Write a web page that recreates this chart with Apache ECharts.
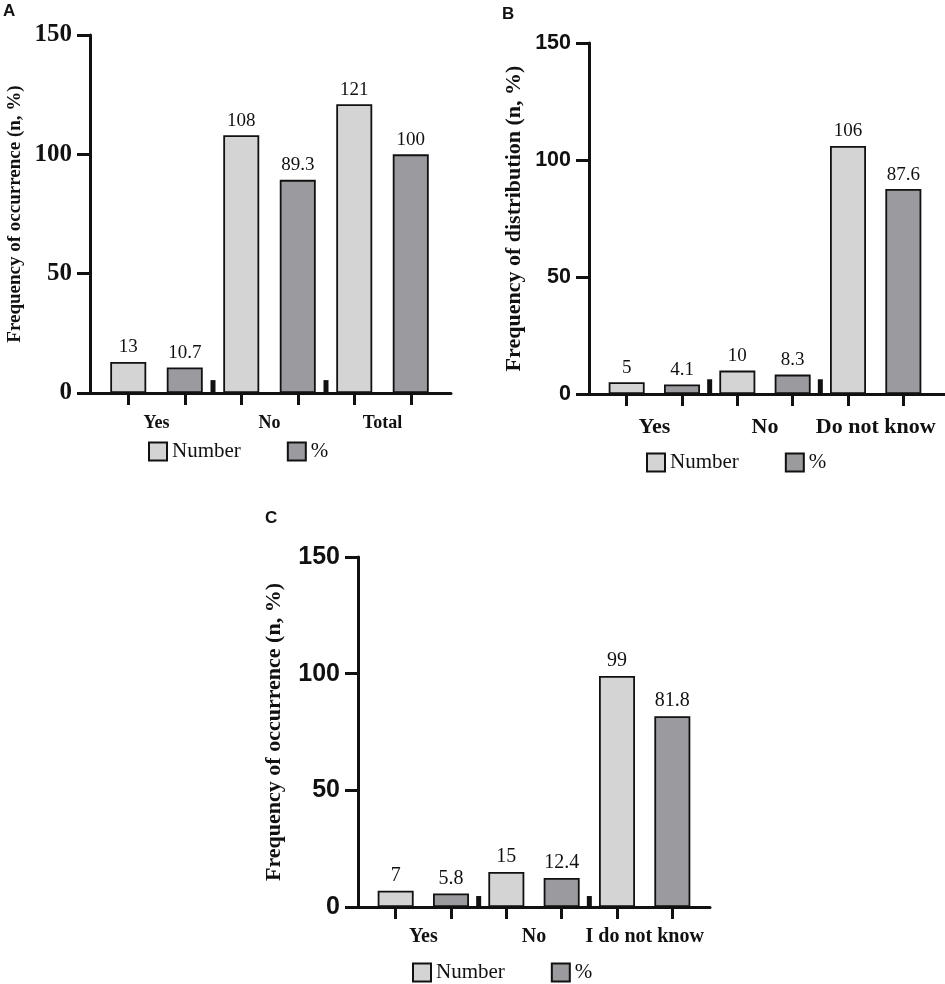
<!DOCTYPE html>
<html>
<head>
<meta charset="utf-8">
<script src="https://cdn.jsdelivr.net/npm/echarts@6/dist/echarts.min.js"></script>
<style>
html,body{margin:0;padding:0;background:#fff;}
#chart{width:945px;height:984px;}
</style>
</head>
<body>
<div id="chart"></div>
<script>
// ---- Data ----
const seriesNames = ['Number', '%'];
const groupsA = ['Yes', 'No', 'Total'];
const numberA = [13, 108, 121];
const pctA = [10.7, 89.3, 100];
const groupsB = ['Yes', 'No', 'Do not know'];
const numberB = [5, 10, 106];
const pctB = [4.1, 8.3, 87.6];
const groupsC = ['Yes', 'No', 'I do not know'];
const numberC = [7, 15, 99];
const pctC = [5.8, 12.4, 81.8];
// small black separator marks between groups
const sepA = [5.4, 5.4];
const sepB = [6.3, 6.3];
const sepC = [4.7, 4.7];
const yMin = 0, yMax = 150, yStep = 50;
const yTitles = ['Frequency of occurrence (n, %)', 'Frequency of distribution (n, %)', 'Frequency of occurrence (n, %)'];
const panelLetters = ['A', 'B', 'C'];

// ---- Layout / style ----
const LIGHT = '#d4d4d4', DARK = '#9b9a9f';
const SERIF = 'Liberation Serif', SANS = 'Liberation Sans';
const layouts = [
  {axisLeft: 90, axisWidth: 361, top: 35, height: 358, barLeft: 100, barWidthArea: 339,
   tickFont: SERIF, tickSize: 25, titleSize: 19, nameGap: 65, groupSize: 18, groupMargin: 21,
   labelSize: 19, legendLeft: 148, legendTop: 441, letterLeft: 3, letterTop: 3},
  {axisLeft: 589, axisWidth: 356, top: 43, height: 351, barLeft: 599, barWidthArea: 332,
   tickFont: SANS, tickSize: 21.5, titleSize: 22, nameGap: 64, groupSize: 22, groupMargin: 22,
   labelSize: 19, legendLeft: 646, legendTop: 452, letterLeft: 502, letterTop: 6},
  {axisLeft: 358, axisWidth: 352, top: 557, height: 350, barLeft: 368, barWidthArea: 332,
   tickFont: SANS, tickSize: 25, titleSize: 22, nameGap: 73, groupSize: 20, groupMargin: 20,
   labelSize: 20, legendLeft: 412, legendTop: 962, letterLeft: 265, letterTop: 510}
];

const panelData = [
  {groups: groupsA, number: numberA, pct: pctA, sep: sepA},
  {groups: groupsB, number: numberB, pct: pctB, sep: sepB},
  {groups: groupsC, number: numberC, pct: pctC, sep: sepC}
];

const grid = [], xAxis = [], yAxis = [], series = [], legend = [], title = [];

panelData.forEach((pd, p) => {
  const L = layouts[p];
  const gAxis = grid.length;
  grid.push({left: L.axisLeft, top: L.top, width: L.axisWidth, height: L.height, containLabel: false});
  const gBar = grid.length;
  grid.push({left: L.barLeft, top: L.top, width: L.barWidthArea, height: L.height, containLabel: false});

  // Visible y axis
  yAxis.push({
    type: 'value', gridIndex: gAxis, min: yMin, max: yMax, interval: yStep,
    name: yTitles[p], nameLocation: 'middle', nameRotate: 90, nameGap: L.nameGap,
    nameTextStyle: {fontFamily: SERIF, fontWeight: 'bold', fontSize: L.titleSize, color: '#111'},
    axisLine: {show: true, lineStyle: {color: '#111', width: 3}},
    axisTick: {show: true, inside: false, length: 13, lineStyle: {color: '#111', width: 3}},
    axisLabel: {fontFamily: L.tickFont, fontWeight: 'bold', fontSize: L.tickSize, color: '#111', margin: 18},
    splitLine: {show: false}
  });
  const yHid = yAxis.length;
  yAxis.push({type: 'value', gridIndex: gBar, min: yMin, max: yMax, interval: yStep, show: false, splitLine: {show: false}});

  // x axis line (full length)
  xAxis.push({
    type: 'value', gridIndex: gAxis, min: 0, max: 1, position: 'bottom',
    axisLine: {show: true, onZero: false, lineStyle: {color: '#111', width: 3}},
    axisTick: {show: false}, axisLabel: {show: false}, splitLine: {show: false}
  });
  // category axis with ticks (one per bar)
  const cats = [];
  pd.groups.forEach(g => { cats.push(g + ' Number'); cats.push(g + ' %'); });
  const xCat = xAxis.length;
  xAxis.push({
    type: 'category', gridIndex: gBar, data: cats, position: 'bottom',
    axisLine: {show: false}, axisLabel: {show: false, interval: 0},
    axisTick: {show: true, interval: 0, alignWithLabel: true, length: 12, lineStyle: {color: '#111', width: 3}},
    splitLine: {show: false}
  });
  // separator axis (boundaries between groups)
  const sepCats = ['', '', '', ''];
  const xSep = xAxis.length;
  xAxis.push({
    type: 'category', gridIndex: gBar, data: sepCats, boundaryGap: false, position: 'bottom', show: false
  });
  // group label axis
  xAxis.push({
    type: 'category', gridIndex: gBar, data: pd.groups, position: 'bottom',
    axisLine: {show: false}, axisTick: {show: false},
    axisLabel: {fontFamily: SERIF, fontWeight: 'bold', fontSize: L.groupSize, color: '#111', margin: L.groupMargin, interval: 0}
  });

  const numData = [], pctData = [];
  pd.groups.forEach((g, i) => {
    numData.push(pd.number[i]); numData.push('-');
    pctData.push('-'); pctData.push(pd.pct[i]);
  });
  const labelCfg = {show: true, position: 'top', distance: 5, fontFamily: SERIF, fontSize: L.labelSize, color: '#111'};
  series.push({
    name: seriesNames[0], type: 'bar', xAxisIndex: xCat, yAxisIndex: yHid, data: numData,
    barWidth: 36, barGap: '-100%',
    itemStyle: {color: LIGHT, borderColor: '#111', borderWidth: 1.8},
    label: labelCfg, emphasis: {disabled: true}
  });
  series.push({
    name: seriesNames[1], type: 'bar', xAxisIndex: xCat, yAxisIndex: yHid, data: pctData,
    barWidth: 36, barGap: '-100%',
    itemStyle: {color: DARK, borderColor: '#111', borderWidth: 1.8},
    label: labelCfg, emphasis: {disabled: true}
  });
  series.push({
    name: 'sep', type: 'bar', xAxisIndex: xSep, yAxisIndex: yHid,
    data: ['-', pd.sep[0], pd.sep[1], '-'], barWidth: 5,
    itemStyle: {color: '#111'}, emphasis: {disabled: true}
  });

  legend.push({
    data: seriesNames, left: L.legendLeft, top: L.legendTop, orient: 'horizontal',
    icon: 'rect', itemWidth: 18, itemHeight: 18, itemGap: 46, selectedMode: false, padding: 0,
    textStyle: {fontFamily: SERIF, fontSize: 21, color: '#111'}
  });
  title.push({
    text: panelLetters[p], left: L.letterLeft, top: L.letterTop, padding: 0,
    textStyle: {fontFamily: SANS, fontWeight: 'bold', fontSize: 17, color: '#111'}
  });
});

const chart = echarts.init(document.getElementById('chart'), null, {renderer: 'canvas'});
chart.setOption({
  animation: false,
  backgroundColor: '#fff',
  title, legend, grid, xAxis, yAxis, series
});
</script>
</body>
</html>
